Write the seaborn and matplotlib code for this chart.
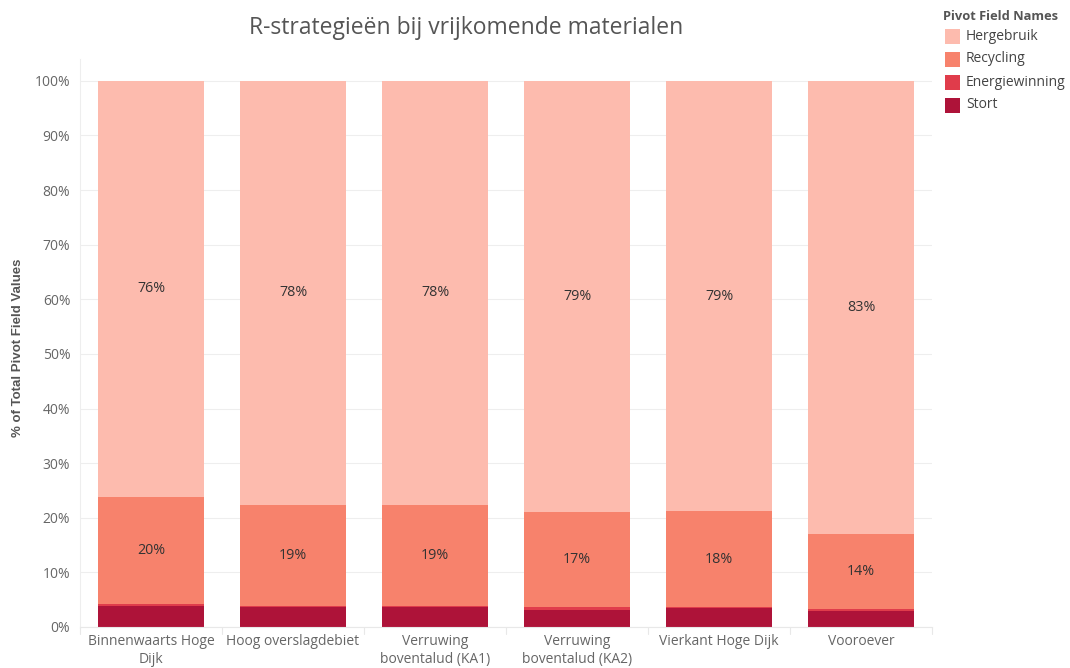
import matplotlib
matplotlib.use("Agg")
import matplotlib.pyplot as plt
from matplotlib.patches import Rectangle
import seaborn as sns
import numpy as np
import pandas as pd

# Categories (measures) and their share per project, in percent
categories = [
    "Binnenwaarts Hoge\nDijk",
    "Hoog overslagdebiet",
    "Verruwing\nboventalud (KA1)",
    "Verruwing\nboventalud (KA2)",
    "Vierkant Hoge Dijk",
    "Vooroever",
]
stort = [3.9, 3.6, 3.6, 3.2, 3.4, 3.0]
energiewinning = [0.3, 0.2, 0.2, 0.4, 0.2, 0.3]
recycling = [19.6, 18.6, 18.6, 17.4, 17.6, 13.8]
hergebruik = [76.2, 77.6, 77.6, 79.0, 78.8, 82.9]

series_names = ["Hergebruik", "Recycling", "Energiewinning", "Stort"]
series_colors = ["#FDBBAE", "#F7826C", "#E03C4B", "#AE1339"]

sns.set_theme(style="white")
plt.rcParams["font.family"] = ["Open Sans", "DejaVu Sans"]

# Stack from the bottom: Stort, Energiewinning, Recycling, Hergebruik
stack = [stort, energiewinning, recycling, hergebruik]
stack_names = ["Stort", "Energiewinning", "Recycling", "Hergebruik"]
totals = np.sum(np.array(stack, dtype=float), axis=0)
shares = [np.array(s, dtype=float) / totals for s in stack]
cum = np.cumsum(np.array(shares), axis=0)

fig = plt.figure(figsize=(10.70, 6.68), dpi=100)
W, H = 1070, 668
ax_left, ax_right = 80, 932
ax_top, ax_bottom = 59, 627
ax = fig.add_axes([ax_left / W, 1 - ax_bottom / H,
                   (ax_right - ax_left) / W, (ax_bottom - ax_top) / H])

color_of = dict(zip(series_names, series_colors))

# Draw cumulative bars from the top layer downwards so each layer shows its slice
for i in range(len(stack) - 1, -1, -1):
    df = pd.DataFrame({"cat": categories, "val": cum[i]})
    sns.barplot(data=df, x="cat", y="val", color=color_of[stack_names[i]],
                width=0.746, saturation=1, ax=ax, errorbar=None,
                edgecolor="none", linewidth=0)

ax.set_ylim(0, 1.04)
ax.set_xlim(-0.5, len(categories) - 0.5)

# Segment labels for Hergebruik and Recycling
for i in (2, 3):
    lower = cum[i - 1]
    for j in range(len(categories)):
        mid = (lower[j] + cum[i][j]) / 2
        ax.text(j, mid, f"{shares[i][j] * 100:.0f}%", ha="center", va="center",
                fontsize=10.3, color="#333333")

# Gridlines and axes styling
yt = np.arange(0, 1.01, 0.1)
ax.set_yticks(yt)
ax.set_yticklabels([f"{int(round(v * 100))}%" for v in yt], fontsize=10,
                   color="#666666")
for v in yt:
    ax.axhline(v, color="#EEEEEE", lw=0.8, zorder=0)
ax.set_axisbelow(True)
ax.tick_params(axis="y", length=7, color="#EEEEEE", width=0.8, pad=0)
ax.tick_params(axis="x", length=0, pad=5)
ax.set_xticks(range(len(categories)))
ax.set_xticklabels(categories, fontsize=10, color="#666666", linespacing=1.3)
for lbl in ax.get_xticklabels():
    lbl.set_va("top")
for s in ("top", "right"):
    ax.spines[s].set_visible(False)
ax.spines["left"].set_color("#EEEEEE")
ax.spines["left"].set_linewidth(0.8)
ax.spines["bottom"].set_color("#E8E8E8")
ax.spines["bottom"].set_linewidth(0.8)
ax.set_xlabel("")
ax.set_ylabel("")

# Small separators between category columns below the axis
for k in range(len(categories) + 1):
    ax.plot([k - 0.5, k - 0.5], [0, -0.012], color="#E8E8E8", lw=0.8,
            clip_on=False, zorder=0)

fig.text(18 / W, 1 - 348 / H, "% of Total Pivot Field Values", rotation=90,
         ha="center", va="center", fontsize=9.5, fontweight="semibold",
         color="#555555", family=["Liberation Sans", "DejaVu Sans"])

fig.text(466 / W, 1 - 28 / H, "R-strategieën bij vrijkomende materialen",
         ha="center", va="center", fontsize=16.5, color="#555555")

# Legend
fig.text(943 / W, 1 - 16 / H, "Pivot Field Names", ha="left", va="center",
         fontsize=9.3, fontweight="bold", color="#555555")
for k, (name, col) in enumerate(zip(series_names, series_colors)):
    yc = 36 + 23 * k
    fig.patches.append(Rectangle((945 / W, 1 - (yc + 7.5) / H), 15 / W, 15 / H,
                                 transform=fig.transFigure, facecolor=col,
                                 edgecolor="none"))
    fig.text(966 / W, 1 - yc / H, name, ha="left", va="center",
             fontsize=10, color="#444444")

fig.savefig("out.png", dpi=100)
